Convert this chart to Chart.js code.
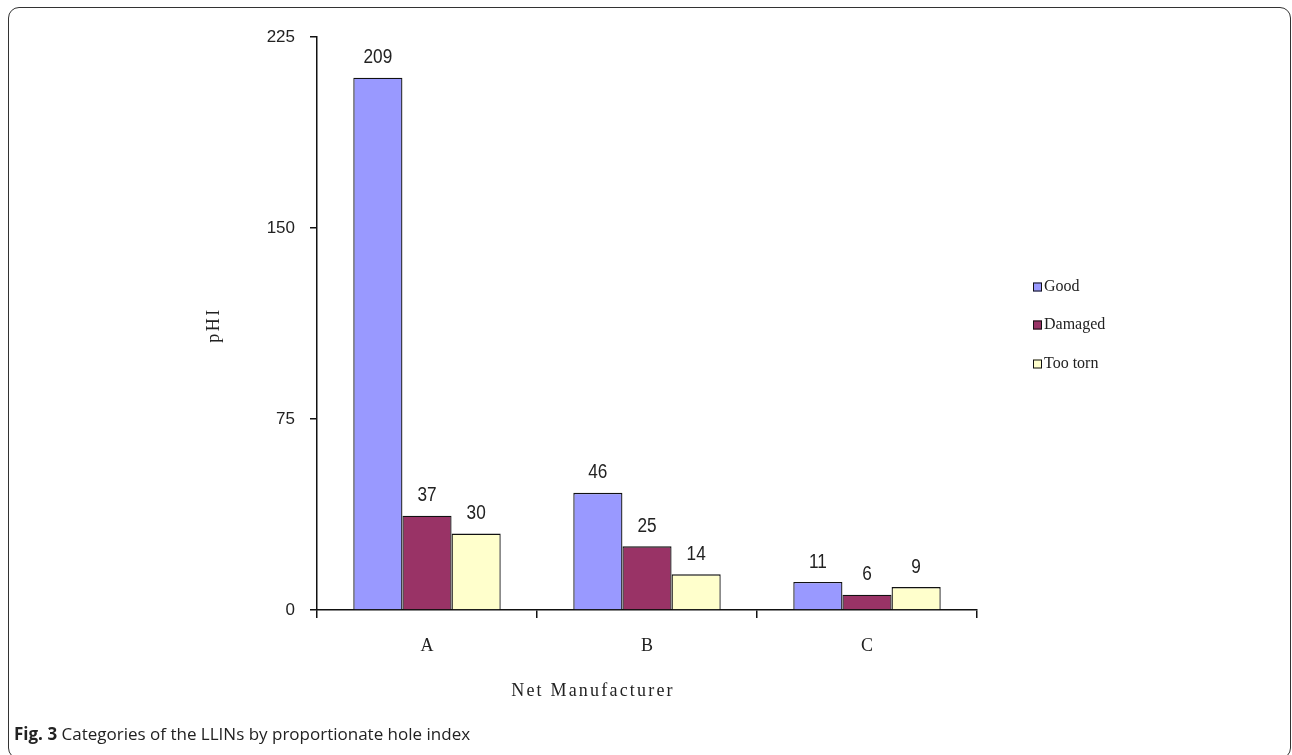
<!DOCTYPE html>
<html>
<head>
<meta charset="utf-8">
<script src="https://cdn.jsdelivr.net/npm/chart.js@4"></script>
<style>
  html, body { margin:0; padding:0; background:#fff; }
  #wrap { position:relative; width:1292px; height:755px; overflow:hidden; }
  #frame { position:absolute; left:8px; top:7px; width:1283px; height:752px; border:1.5px solid #333; border-radius:11px; box-sizing:border-box; }
  #c { position:absolute; left:0; top:0; }
  #cap { position:absolute; left:14px; top:722px; font-family:"Open Sans", sans-serif; font-size:17px; color:#222; }
  #cap b { font-weight:700; }
</style>
</head>
<body>
<div id="wrap">
  <div id="frame"></div>
  <canvas id="c" width="1292" height="755"></canvas>
  <div id="cap"><b>Fig. 3</b> Categories of the LLINs by proportionate hole index</div>
</div>
<script>
const categories = ["A", "B", "C"];
const seriesNames = ["Good", "Damaged", "Too torn"];
const good = [209, 46, 11];
const damaged = [37, 25, 6];
const tooTorn = [30, 14, 9];
const yTicks = [0, 75, 150, 225];
const xTitle = "Net Manufacturer";
const yTitle = "pHI";

const colors = ["#9999FF", "#993366", "#FFFFCC"];

const extras = {
  id: 'extras',
  afterDatasetsDraw(chart) {
    const ctx = chart.ctx;
    ctx.save();
    ctx.fillStyle = '#222';
    ctx.font = '20px "Liberation Sans", sans-serif';
    ctx.textAlign = 'center';
    ctx.textBaseline = 'middle';
    chart.data.datasets.forEach((ds, i) => {
      const meta = chart.getDatasetMeta(i);
      meta.data.forEach((el, j) => {
        ctx.save();
        ctx.translate(el.x, el.y - 20);
        ctx.scale(0.86, 1);
        ctx.fillText(String(ds.data[j]), 0, 0);
        ctx.restore();
      });
    });
    // axis titles
    ctx.font = '18px "Liberation Serif", serif';
    ctx.letterSpacing = '2.2px';
    ctx.fillText(xTitle, 593, 691);
    ctx.save();
    ctx.translate(214, 325);
    ctx.rotate(-Math.PI / 2);
    ctx.letterSpacing = '2.5px';
    ctx.fillText(yTitle, 0, 0);
    ctx.restore();
    // legend
    ctx.letterSpacing = '0px';
    ctx.font = '16px "Liberation Serif", serif';
    ctx.textAlign = 'left';
    const ly = [287, 325, 364];
    chart.data.datasets.forEach((ds, i) => {
      ctx.fillStyle = ds.backgroundColor;
      ctx.fillRect(1033, ly[i] - 4.5, 9, 9);
      ctx.strokeStyle = '#111';
      ctx.lineWidth = 1;
      ctx.strokeRect(1033.5, ly[i] - 4, 8, 8);
      ctx.fillStyle = '#222';
      ctx.fillText(ds.label, 1044, ly[i]);
    });
    ctx.restore();
  }
};

new Chart(document.getElementById('c'), {
  type: 'bar',
  data: {
    labels: categories,
    datasets: [
      { label: seriesNames[0], data: good, backgroundColor: colors[0] },
      { label: seriesNames[1], data: damaged, backgroundColor: colors[1] },
      { label: seriesNames[2], data: tooTorn, backgroundColor: colors[2] }
    ].map(d => Object.assign(d, { borderColor: '#111', borderWidth: 1.3, categoryPercentage: 0.67, barPercentage: 1.0 }))
  },
  options: {
    responsive: false,
    animation: false,
    devicePixelRatio: 1,
    layout: { padding: { left: 0, right: 315, top: 37, bottom: 0 } },
    plugins: { legend: { display: false }, tooltip: { enabled: false } },
    scales: {
      x: {
        afterFit: s => { s.height = 145; },
        grid: { display: true, drawOnChartArea: false, drawTicks: true, tickLength: 8, color: '#111', lineWidth: 1.5, offset: true },
        border: { display: true, color: '#111', width: 1.5 },
        ticks: { padding: 17, color: '#222', font: { family: '"Liberation Serif", serif', size: 18 } }
      },
      y: {
        min: 0, max: 225,
        afterFit: s => { s.width = 317; },
        afterBuildTicks: s => { s.ticks = yTicks.map(v => ({ value: v })); },
        grid: { display: true, drawOnChartArea: false, drawTicks: true, tickLength: 7, color: '#111', lineWidth: 1.5 },
        border: { display: true, color: '#111', width: 1.5 },
        ticks: { padding: 15, color: '#222', font: { family: '"Liberation Sans", sans-serif', size: 17 } }
      }
    }
  },
  plugins: [extras]
});
</script>
</body>
</html>
